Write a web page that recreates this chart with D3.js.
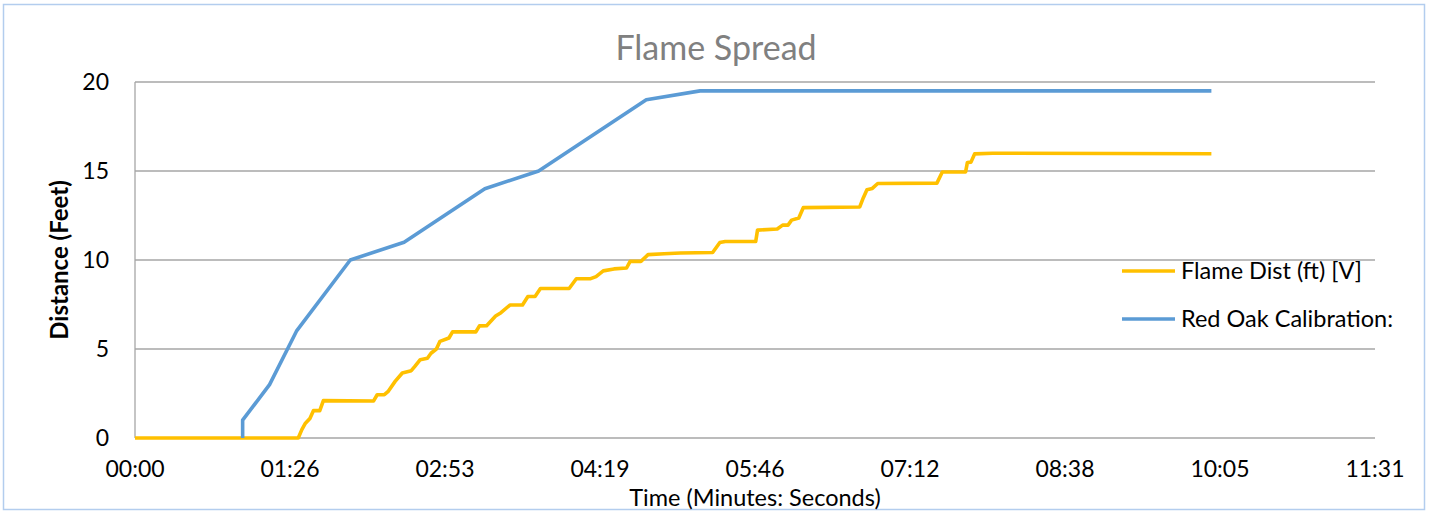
<!DOCTYPE html>
<html>
<head>
<meta charset="utf-8">
<script src="https://cdn.jsdelivr.net/npm/d3@7"></script>
<style>
  body { margin: 0; background: #fff; }
  text { font-family: Lato, "Open Sans", sans-serif; }
</style>
</head>
<body>
<div id="chart"></div>
<script>
// data (time in seconds, distance in feet)
const oakSec = [60, 60, 75, 90, 120, 150, 195, 225, 285, 315, 600];
const oakFeet = [0, 1, 3, 6, 10, 11, 14, 15, 19, 19.5, 19.5];

const flameSec = [0, 91, 93, 95, 97.5, 99.5, 103, 105, 133, 135,
    139, 141, 145, 149, 154, 156, 159, 163, 165, 168,
    170, 175, 177, 190, 192, 196, 201, 204, 209, 216,
    219, 223, 226, 242, 246, 254, 257, 261, 267, 274,
    276, 282, 286, 295, 304, 322, 326, 329, 346, 347,
    358, 361, 364, 366, 370, 372.5, 404, 406, 408, 411,
    414, 447, 450, 463, 464, 466, 468, 478, 600];
const flameFeet = [0, 0, 0.47, 0.83, 1.1, 1.54, 1.54, 2.1, 2.08, 2.43,
    2.43, 2.6, 3.18, 3.65, 3.78, 4.02, 4.4, 4.48, 4.76, 5.0,
    5.43, 5.62, 5.96, 5.96, 6.3, 6.31, 6.85, 7.04, 7.47, 7.47,
    7.95, 7.95, 8.4, 8.4, 8.95, 8.95, 9.07, 9.39, 9.5, 9.55,
    9.92, 9.92, 10.3, 10.35, 10.39, 10.42, 10.98, 11.04, 11.04, 11.68,
    11.74, 11.96, 11.96, 12.24, 12.36, 12.94, 12.98, 13.5, 13.95, 14.02,
    14.3, 14.32, 14.94, 14.95, 15.48, 15.5, 15.96, 16.0, 15.97];

const xTickSec = [0, 86.4, 172.8, 259.2, 345.6, 432, 518.4, 604.8, 691.2];
const xTickLabels = ["00:00", "01:26", "02:53", "04:19", "05:46", "07:12", "08:38", "10:05", "11:31"];
const yTicks = [0, 5, 10, 15, 20];

const seriesNames = ["Flame Dist (ft) [V]", "Red Oak Calibration:"];
const seriesColors = ["#ffc000", "#5b9bd5"];

// layout
const W = 1429, H = 513;
const margin = { top: 82, right: 54, bottom: 75, left: 135 };
const width = W - margin.left - margin.right;
const height = H - margin.top - margin.bottom;

const svg = d3.select("#chart").append("svg")
    .attr("width", W)
    .attr("height", H);

// chart border
svg.append("rect")
    .attr("x", 3.5).attr("y", 4.5)
    .attr("width", 1421).attr("height", 505)
    .attr("fill", "none")
    .attr("stroke", "#b3cdee")
    .attr("stroke-width", 1.5);

const g = svg.append("g")
    .attr("transform", `translate(${margin.left},${margin.top})`);

const x = d3.scaleLinear().domain([0, 691.2]).range([0, width]);
const y = d3.scaleLinear().domain([0, 20]).range([height, 0]);

// gridlines
g.selectAll(".grid")
    .data(yTicks)
    .enter().append("line")
    .attr("x1", 0).attr("x2", width)
    .attr("y1", d => y(d)).attr("y2", d => y(d))
    .attr("stroke", "#a6a6a6")
    .attr("stroke-width", 1.3);

// y axis line
g.append("line")
    .attr("x1", 0).attr("x2", 0)
    .attr("y1", 0).attr("y2", height)
    .attr("stroke", "#a6a6a6")
    .attr("stroke-width", 1.3);

// y tick labels
g.selectAll(".ylab")
    .data(yTicks)
    .enter().append("text")
    .attr("x", -26)
    .attr("y", d => y(d))
    .attr("dy", "0.36em")
    .attr("text-anchor", "end")
    .style("font-size", "23px")
    .attr("fill", "#000")
    .text(d => d);

// x tick labels
g.selectAll(".xlab")
    .data(xTickSec)
    .enter().append("text")
    .attr("x", d => x(d))
    .attr("y", height + 39)
    .attr("text-anchor", "middle")
    .style("font-size", "23px")
    .attr("fill", "#000")
    .text((d, i) => xTickLabels[i]);

// lines
const line = d3.line()
    .x(d => x(d[0]))
    .y(d => y(d[1]));

const flameData = flameSec.map((t, i) => [t, flameFeet[i]]);
const oakData = oakSec.map((t, i) => [t, oakFeet[i]]);

[flameData, oakData].forEach((data, i) => {
    g.append("path")
        .datum(data)
        .attr("d", line)
        .attr("fill", "none")
        .attr("stroke", seriesColors[i])
        .attr("stroke-width", 3.6)
        .attr("stroke-linejoin", "round");
});

// title
svg.append("text")
    .attr("x", 716)
    .attr("y", 60)
    .attr("text-anchor", "middle")
    .style("font-size", "34px")
    .attr("fill", "#808080")
    .text("Flame Spread");

// axis titles
svg.append("text")
    .attr("x", margin.left + width / 2)
    .attr("y", 506)
    .attr("text-anchor", "middle")
    .style("font-size", "23.5px")
    .attr("fill", "#000")
    .text("Time (Minutes: Seconds)");

svg.append("text")
    .attr("transform", `translate(68, ${margin.top + height / 2}) rotate(-90)`)
    .attr("text-anchor", "middle")
    .style("font-size", "24px")
    .style("font-weight", "bold")
    .attr("fill", "#000")
    .text("Distance (Feet)");

// legend
const legend = svg.selectAll(".legend")
    .data(seriesNames)
    .enter().append("g")
    .attr("transform", (d, i) => `translate(1122, ${271 + i * 48})`);

legend.append("line")
    .attr("x1", 0).attr("x2", 53)
    .attr("stroke", (d, i) => seriesColors[i])
    .attr("stroke-width", 3.6);

legend.append("text")
    .attr("x", 59)
    .attr("dy", "0.36em")
    .style("font-size", "23.5px")
    .attr("fill", "#000")
    .text(d => d);
</script>
</body>
</html>
